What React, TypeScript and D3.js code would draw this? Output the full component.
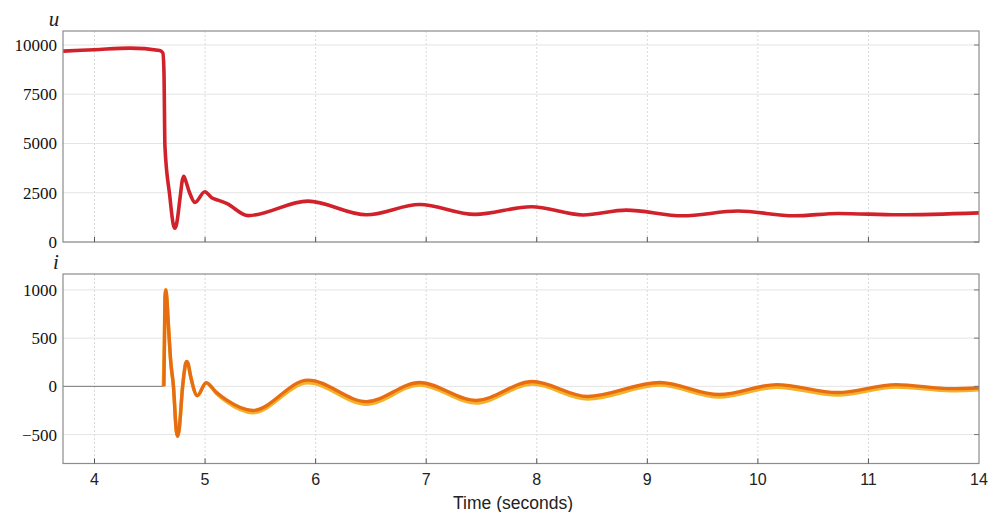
import React from 'react';
import * as d3 from 'd3';

// u(t)
const uTime = [3.715, 4.0, 4.32, 4.59, 4.618, 4.628, 4.637, 4.68, 4.712, 4.727, 4.742, 4.775, 4.795, 4.808, 4.822, 4.86, 4.908, 4.998, 5.06, 5.118, 5.194, 5.39, 5.93, 6.46, 6.94, 7.44, 7.95, 8.42, 8.81, 9.32, 9.82, 10.33, 10.73, 11.27, 12.0];
const uValues = [9690, 9760, 9840, 9720, 9600, 8700, 4860, 2380, 900, 700, 900, 2300, 3150, 3340, 3150, 2500, 2010, 2550, 2250, 2125, 1960, 1340, 2076, 1380, 1900, 1400, 1790, 1370, 1620, 1330, 1570, 1330, 1450, 1380, 1480];

// i(t): flat zero part before the fault, then two nearly overlapping currents
const iPreTime = [3.715, 4.626];
const iPreValues = [0, 0];
const iTime = [4.628, 4.634, 4.638, 4.645, 4.653, 4.67, 4.69, 4.714, 4.74, 4.752, 4.764, 4.797, 4.825, 4.835, 4.846, 4.87, 4.93, 5.01, 5.1, 5.19, 5.43, 5.93, 6.46, 6.94, 7.45, 7.96, 8.46, 9.11, 9.65, 10.17, 10.72, 11.25, 11.75, 12.0];
const iDark = [0, 600, 930, 1000, 930, 600, 250, 0, -460, -517, -460, 0, 240, 258, 235, 100, -96, 38, -60, -138, -250, 65, -158, 40, -146, 50, -105, 40, -85, 18, -64, 18, -24, -14];
const iTimeLight = [4.623, 4.632, 4.638, 4.645, 4.653, 4.67, 4.69, 4.714, 4.74, 4.752, 4.764, 4.797, 4.825, 4.835, 4.846, 4.87, 4.93, 5.01, 5.1, 5.19, 5.43, 5.93, 6.46, 6.94, 7.45, 7.96, 8.46, 9.11, 9.65, 10.17, 10.72, 11.25, 11.75, 12.0];
const iLight = [0, 450, 930, 1000, 930, 600, 250, 0, -460, -517, -460, 0, 240, 258, 235, 100, -96, 38, -70, -155, -272, 38, -185, 15, -172, 24, -130, 14, -110, -8, -88, -6, -44, -34];

const xTicks = [4, 5, 6, 7, 8, 9, 10, 11, 12];
const xTickLabels = ['4', '5', '6', '7', '8', '9', '10', '11', '14'];
const uTicks = [0, 2500, 5000, 7500, 10000];
const iTicks = [-500, 0, 500, 1000];

const W = 989, H = 512;
const left = 63, right = 979;

function Panel({ top, bottom, yDomain, ticks, label, x, children }) {
  const y = d3.scaleLinear().domain(yDomain).range([bottom, top]);
  return (
    <g>
      {xTicks.slice(0, -1).map(t => (
        <line key={'vx' + t} x1={x(t)} x2={x(t)} y1={top} y2={bottom} stroke="#d9d9d9" strokeWidth={1} strokeDasharray="2,2" />
      ))}
      {ticks.map(t => (
        <line key={'hy' + t} x1={left} x2={right} y1={y(t)} y2={y(t)} stroke="#e4e4e4" strokeWidth={1} />
      ))}
      {children(y)}
      <rect x={left} y={top} width={right - left} height={bottom - top} fill="none" stroke="#8c8c8c" strokeWidth={1.2} />
      {ticks.map(t => (
        <g key={'ty' + t}>
          <line x1={right} x2={right - 5} y1={y(t)} y2={y(t)} stroke="#777" />
          <text x={57} y={y(t)} dy="0.35em" textAnchor="end" fontFamily="'Liberation Serif', serif" fontSize={17} fill="#111">
            {t < 0 ? '\u2212' + Math.abs(t) : t}
          </text>
        </g>
      ))}
      {xTicks.slice(0, -1).map(t => (
        <line key={'tx' + t} x1={x(t)} x2={x(t)} y1={bottom} y2={bottom - 5} stroke="#555" />
      ))}
      <text x={label === 'u' ? 54 : 56} y={top - 5} textAnchor="middle" fontFamily="'Liberation Serif', serif" fontStyle="italic" fontSize={21} fill="#222">{label}</text>
    </g>
  );
}

export default function App() {
  const x = d3.scaleLinear().domain([3.715, 12.0]).range([left, right]);
  const mk = (xs, ys, y) =>
    d3.line<number>().x((_, k) => x(xs[k])).y(d => y(d)).curve(d3.curveMonotoneX)(ys) || '';

  return (
    <svg width={W} height={H} style={{ position: 'absolute', left: 0, top: 0, background: '#fff' }}>
      <Panel top={31} bottom={242} yDomain={[0, 10710]} ticks={uTicks} label="u" x={x}>
        {y => (
          <path d={mk(uTime, uValues, y)} fill="none" stroke="#d1222b" strokeWidth={3.6} strokeLinejoin="round" />
        )}
      </Panel>
      <Panel top={274} bottom={463.5} yDomain={[-800, 1165]} ticks={iTicks} label="i" x={x}>
        {y => (
          <g>
            <path d={mk(iPreTime, iPreValues, y)} fill="none" stroke="#7a7a7a" strokeWidth={1} />
            <path d={mk(iTimeLight, iLight, y)} fill="none" stroke="#f6b128" strokeWidth={3.6} strokeLinejoin="round" />
            <path d={mk(iTime, iDark, y)} fill="none" stroke="#e66d12" strokeWidth={3.4} strokeLinejoin="round" />
          </g>
        )}
      </Panel>
      {xTicks.map((t, k) => (
        <text key={'xl' + t} x={x(t)} y={485} textAnchor="middle" fontFamily="'Liberation Sans', Arial, sans-serif" fontSize={16} fill="#222">
          {xTickLabels[k]}
        </text>
      ))}
      <text x={513} y={509} textAnchor="middle" fontFamily="'Liberation Sans', Arial, sans-serif" fontSize={17.5} fill="#222">Time (seconds)</text>
    </svg>
  );
}
